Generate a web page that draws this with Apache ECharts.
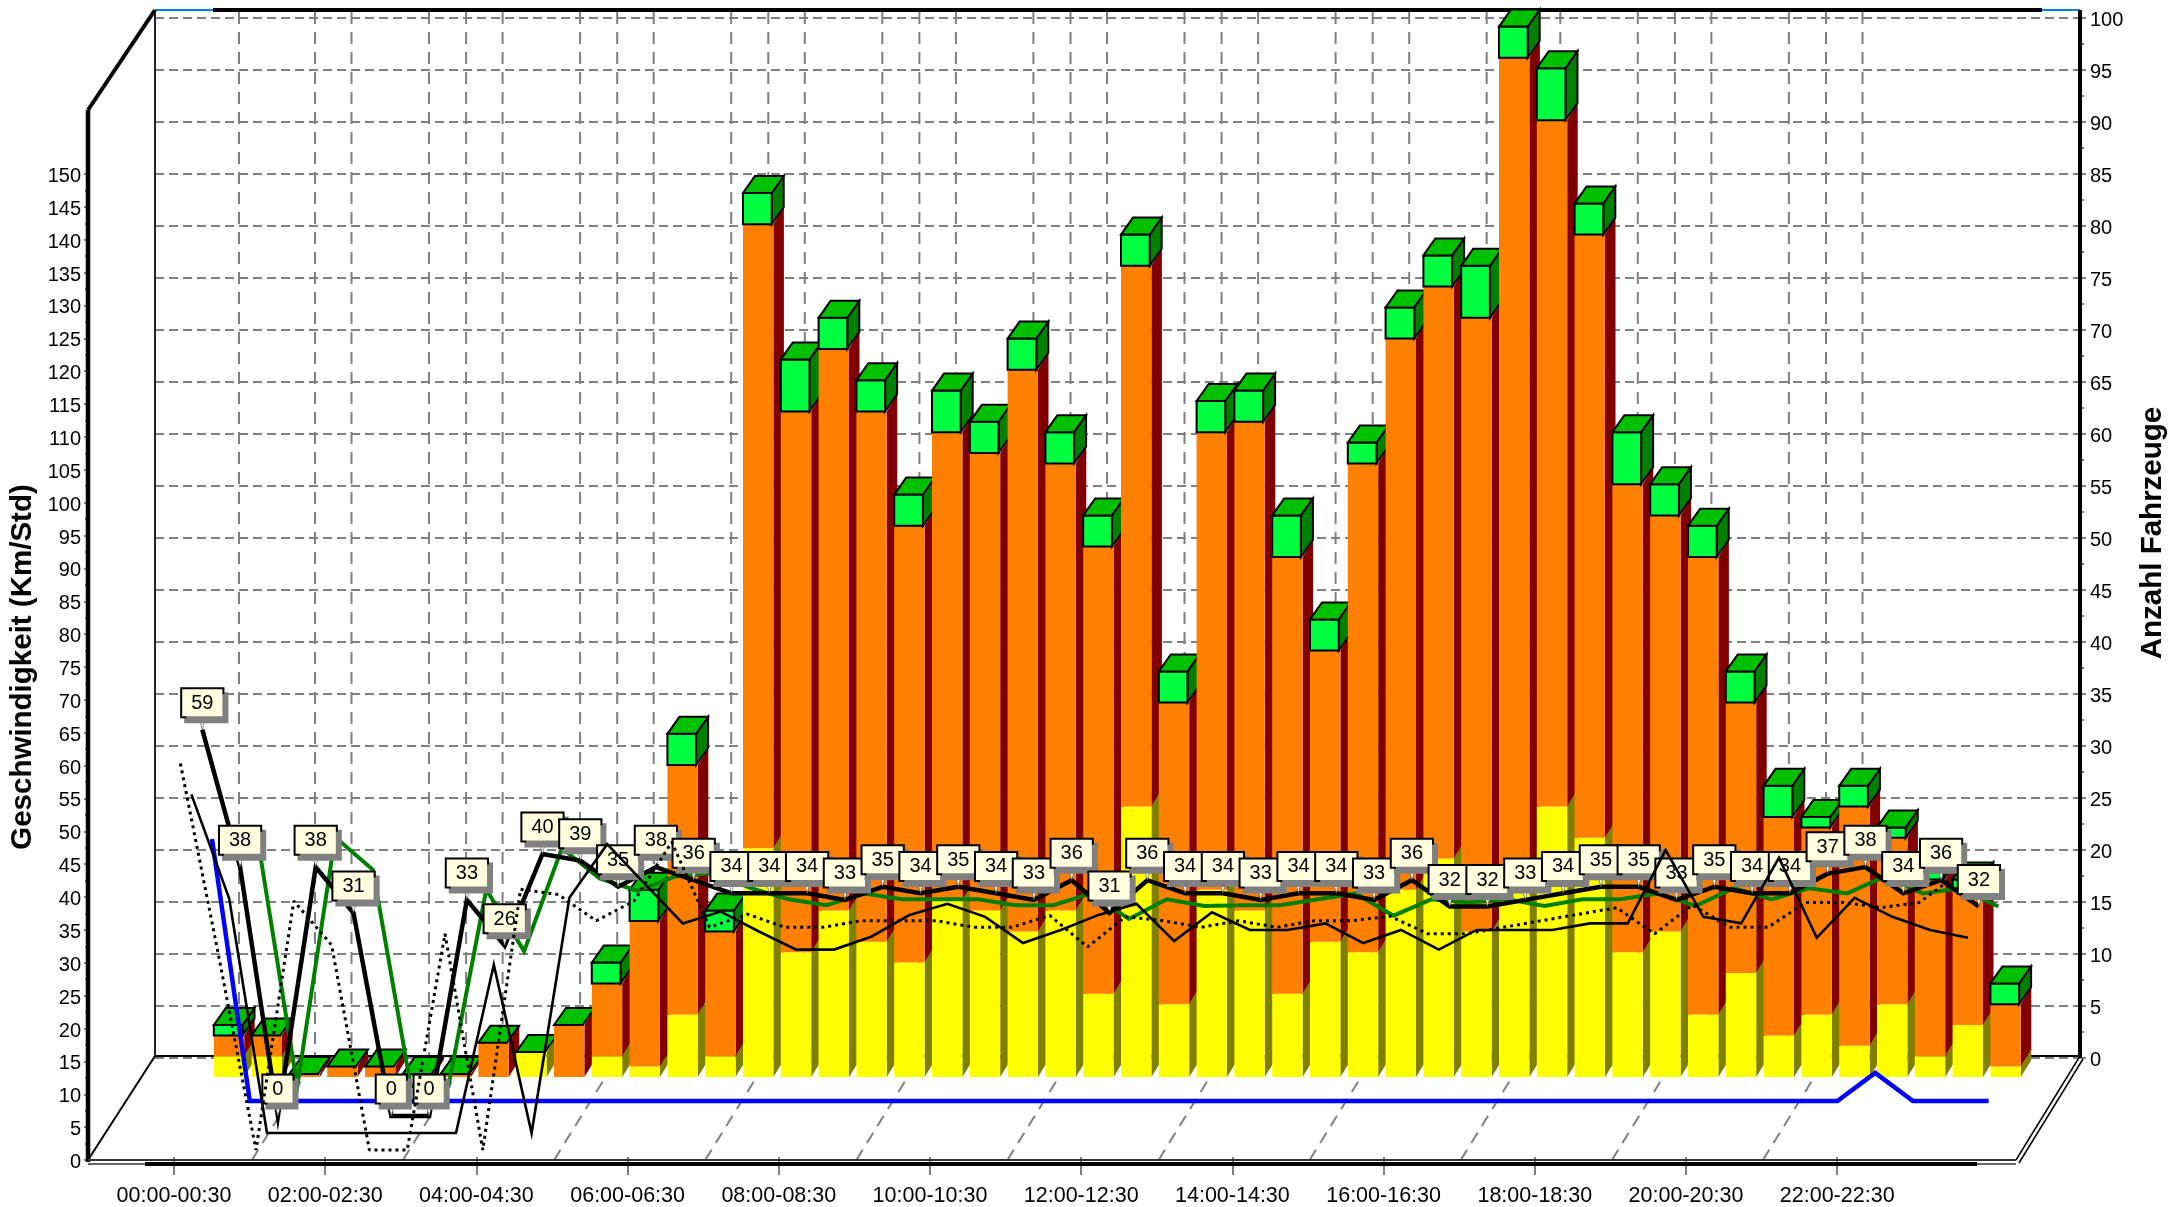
<!DOCTYPE html>
<html><head><meta charset="utf-8">
<style>html,body{margin:0;padding:0;background:#fff}#c{width:2179px;height:1207px}</style>
<script src="https://cdn.jsdelivr.net/npm/echarts@6/dist/echarts.min.js"></script>
</head><body><div id="c"></div>
<script>
const categories = ["00:00-00:30","00:30-01:00","01:00-01:30","01:30-02:00","02:00-02:30","02:30-03:00","03:00-03:30","03:30-04:00","04:00-04:30","04:30-05:00","05:00-05:30","05:30-06:00","06:00-06:30","06:30-07:00","07:00-07:30","07:30-08:00","08:00-08:30","08:30-09:00","09:00-09:30","09:30-10:00","10:00-10:30","10:30-11:00","11:00-11:30","11:30-12:00","12:00-12:30","12:30-13:00","13:00-13:30","13:30-14:00","14:00-14:30","14:30-15:00","15:00-15:30","15:30-16:00","16:00-16:30","16:30-17:00","17:00-17:30","17:30-18:00","18:00-18:30","18:30-19:00","19:00-19:30","19:30-20:00","20:00-20:30","20:30-21:00","21:00-21:30","21:30-22:00","22:00-22:30","22:30-23:00","23:00-23:30","23:30-00:00"];
const barYellow = [2,2,0,0,0,0,0,0,2.4,0,2,1,6,2,22,12,16,13,11,17,16,14,16,8,26,7,18,16,8,13,12,18,21,14,18,26,23,12,14,6,10,4,6,3,7,2,5,1];
const barOrange = [2,2,.3,1,1,.3,.3,3.3,0,5,7,14,24,12,60,52,54,51,42,45,44,54,43,43,52,29,44,47,42,28,47,53,55,59,80,66,58,45,40,44,26,21,18,23,16,17,13,6];
const barGreen  = [1,0,0,0,0,0,0,0,0,0,2,3,3,2,3,5,3,3,3,4,3,3,3,3,3,3,3,3,4,3,2,3,3,5,3,5,3,5,3,3,3,3,1,2,1,2,1,2];
const speedGreen = [null,36,0,38,33,0,0,30,20.6,36.3,31.7,29.8,32,32.5,30.2,28.5,27.6,29.4,28.5,28.5,28.5,27.6,27.6,29.4,25.5,28.5,27.5,27.6,27.6,28.5,29.4,26,28.5,28,28.5,27.5,28.5,28.5,29.4,27.5,30.2,28.5,30.2,29.4,32,29.4,30.2,27.4];
const speedBlue = [40,0,0,0,0,0,0,0,0,0,0,0,0,0,0,0,0,0,0,0,0,0,0,0,0,0,0,0,0,0,0,0,0,0,0,0,0,0,0,0,0,0,0,0,4.3,0,0,0];
const speedThick = [59,38,0,38,31,0,0,33,26,40,39,35,38,36,34,34,34,33,35,34,35,34,33,36,31,36,34,34,33,34,34,33,36,32,32,33,34,35,35,33,35,34,34,37,38,34,36,32];
const speedThin = [51.7,35.8,0,0,0,0,0,0,25.7,0,35.9,44.1,38,32,33.8,30.8,28,28,30,33.3,35,33,29,31,33.3,35,29.3,33.7,31,31,32,29,31,28,31,31,31,32,32,43.2,33,32,42,29.8,35.9,33,31,29.8];
const speedDotted = [59,30,0,38,31.3,0,0,33,0,39.8,39,35,38,47,34,36,34,34,35,35,35,34,34,35.8,31,35.6,35,34,35,34,35,35,35.7,33,33,34,35,36,37,33,37.4,34,34,37.8,37.8,37,37.8,42];
const leftTicksMax = 150, rightTicksMax = 100;

const BAND = 37.8, CATW = BAND * 48;
const GRID_GRAY = '#808080';
const barRows = categories.map((c, i) => [i, barYellow[i], barOrange[i], barGreen[i]]);

function hiddenX(gridIndex){ return {type:'category', gridIndex, data:categories, show:false, boundaryGap:true}; }
function hiddenY(gridIndex, max){ return {type:'value', gridIndex, min:0, max, show:false, splitLine:{show:false}}; }

const grids = [
  {left:155, top:18, width:1925, height:1040},          // back wall, right axis
  {left:88, top:174, width:10, height:986},             // left axis
  {left:174 - BAND/2, top:174, width:CATW, height:986}, // front category axis
  {left:229 - BAND/2, top:37, width:CATW, height:1040}, // bars layer
];
function layer(x0, y0){ grids.push({left:x0 - BAND/2, top:y0 - 150*6.55, width:CATW, height:150*6.55}); return grids.length-1; }
const gGreen = layer(221.7,1086), gBlue = layer(212,1101), gThick = layer(202.3,1116), gThin = layer(191.4,1133), gDot = layer(180.4,1150);

const xAxes = grids.map((g,i)=>hiddenX(i));
const yAxes = grids.map((g,i)=>hiddenY(i,150));
yAxes[3] = hiddenY(3,100);

const tickRich = {a:{fontFamily:'Liberation Sans', fontSize:20, color:'#000', padding:[5,0,0,0]}};
yAxes[0] = {type:'value', gridIndex:0, position:'right', min:0, max:rightTicksMax, interval:5,
  name:'Anzahl Fahrzeuge', nameLocation:'middle', nameRotate:90, nameGap:58,
  nameTextStyle:{fontFamily:'Liberation Sans', fontWeight:'bold', fontSize:29.5, color:'#000', padding:[0,0,0,10]},
  axisLine:{show:false},
  axisTick:{show:true, inside:false, length:6, lineStyle:{color:GRID_GRAY, width:2}},
  minorTick:{show:true, splitNumber:2, length:4, lineStyle:{color:GRID_GRAY, width:2}},
  axisLabel:{formatter:'{a|{value}}', rich:tickRich, margin:10},
  splitLine:{show:true, lineStyle:{color:GRID_GRAY, width:2, type:[9,5]}}};
yAxes[1] = {type:'value', gridIndex:1, position:'left', min:0, max:leftTicksMax, interval:5,
  name:'Geschwindigkeit (Km/Std)', nameLocation:'middle', nameRotate:90, nameGap:50,
  nameTextStyle:{fontFamily:'Liberation Sans', fontWeight:'bold', fontSize:29.5, color:'#000'},
  axisLine:{show:false},
  axisTick:{show:true, length:4, lineStyle:{color:GRID_GRAY, width:2}},
  minorTick:{show:true, splitNumber:2, length:3, lineStyle:{color:GRID_GRAY, width:2}},
  axisLabel:{formatter:'{a|{value}}', rich:tickRich, margin:7},
  splitLine:{show:false}};
xAxes[2] = {type:'category', gridIndex:2, data:categories, boundaryGap:true, position:'bottom',
  axisLine:{show:false},
  axisTick:{show:true, alignWithLabel:true, interval:3, length:18, lineStyle:{color:GRID_GRAY, width:2}},
  axisLabel:{interval:3, fontFamily:'Liberation Sans', fontSize:21.5, color:'#000', margin:28},
  splitLine:{show:false}};

function renderBar(params, api){
  const i = api.value(0), y = api.value(1), o = api.value(2), g = api.value(3);
  const c = api.coord([i,0])[0];
  const yv = v => api.coord([i,v])[1];
  const W = 15.2, DX = 10.5, DY = 17, GDX = 12, GR = 13.5;
  const kids = [];
  const block = (v0, v1, front, side) => {
    if (v1 <= v0) return;
    const b = yv(v0), t = yv(v1);
    kids.push({type:'polygon', shape:{points:[[c+W,b],[c+W+DX,b-DY],[c+W+DX,t-DY],[c+W,t]]}, style:{fill:side}});
    kids.push({type:'rect', shape:{x:c-W, y:t, width:2*W, height:b-t}, style:{fill:front}});
  };
  block(0, y, '#FFFF00', '#808000');
  block(y, y+o, '#FF8000', '#800000');
  const gb = yv(y+o), gt = yv(y+o+g), L = c-W, R = c+GR;
  const st = {stroke:'#000', lineWidth:2, lineJoin:'miter'};
  if (g > 0) {
    kids.push({type:'polygon', shape:{points:[[R,gb],[R+GDX,gb-DY],[R+GDX,gt-DY],[R,gt]]}, style:Object.assign({fill:'#008000'},st)});
    kids.push({type:'rect', shape:{x:L, y:gt, width:R-L, height:gb-gt}, style:Object.assign({fill:'#00FF40'},st)});
  }
  kids.push({type:'polygon', shape:{points:[[L,gt],[L+GDX,gt-DY],[R+GDX,gt-DY],[R,gt]]}, style:Object.assign({fill:'#00C000'},st)});
  return {type:'group', children:kids};
}

const baseLine = (name, grid, data, color, width, z, extra) => Object.assign({
  name, type:'line', xAxisIndex:grid, yAxisIndex:grid, data, z, clip:false, connectNulls:false,
  showSymbol:false, symbol:'none', animation:false,
  lineStyle:{color, width, join:'miter'}
}, extra||{});

const series = [
  {type:'custom', name:'Fahrzeuge', xAxisIndex:3, yAxisIndex:3, data:barRows, renderItem:renderBar, clip:false, z:10, animation:false,
   encode:{x:0, y:[1]}},
  baseLine('v85', gGreen, speedGreen, '#008000', 4, 11),
  baseLine('vmax', gBlue, speedBlue, '#0000FF', 4.5, 12),
  baseLine('vavg', gThick, speedThick, '#000', 4.5, 13, {
    showSymbol:true, showAllSymbol:true,
    symbol:'path://M0,0 L10,0 L5,18 Z', symbolSize:[7,13], symbolOffset:[0,'-50%'], symbolKeepAspect:false,
    itemStyle:{color:'#fff', borderColor:'#444', borderWidth:0.6},
    label:{show:true, position:'top', distance:0, formatter:p=>String(p.value),
      fontFamily:'Liberation Sans', fontSize:20, color:'#000', backgroundColor:'#FFFFE0',
      borderColor:'#000', borderWidth:2, padding:[4,9,3,9], lineHeight:20,
      shadowColor:'#808080', shadowBlur:0, shadowOffsetX:4, shadowOffsetY:5}
  }),
  baseLine('vmin', gThin, speedThin, '#000', 2.6, 14),
  baseLine('vmed', gDot, speedDotted, '#000', 3, 15, {lineStyle:{color:'#000', width:3, type:[3,4]}}),
];

// Frame of the 3D box
const gfx = [];
const ln = (x1,y1,x2,y2,stroke,lineWidth,z,lineDash) => gfx.push({type:'line', z:z||1, silent:true,
  shape:{x1,y1,x2,y2}, style:{stroke,lineWidth,lineDash}});
const wallSets = [[239,1],[315,11],[429,10],[351.5,11]];
wallSets.forEach(([x,n])=>{ for(let k=0;k<n;k++){ const X=x+k*151.1; ln(X,12,X,1056,GRID_GRAY,2,1,[12,8]); }});
for(let k=0;k<11;k++){ const X=252+k*151.1; ln(X,1160,X+63,1058,GRID_GRAY,2,1,[12,8]); }
ln(155,10,155,1056,'#223',2,2);
ln(155,1056,2080,1056,'#000',2,2);
ln(88,1160,155,1056,'#000',2,2);
ln(155,10,213,10,'#0080FF',2,3);
ln(213,10,2042,10,'#000',4,3);
ln(2042,10,2080,10,'#0080FF',2,3);
ln(88,110,88,1162,'#000',4.5,3);
ln(88,110,155,10,'#000',4,3);
ln(2080,10,2080,1058,'#000',4,3);
ln(88,1160,2016,1160,'#333',2,3);
ln(88,1164,2016,1164,'#333',1.5,3);
ln(145,1164,1977,1164,'#000',4,4);
ln(2016,1160,2080,1056,'#000',1.5,3);
ln(2019,1163,2083,1059,'#000',1.5,3);

const chart = echarts.init(document.getElementById('c'), null, {renderer:'canvas', width:2179, height:1207});
chart.setOption({animation:false, backgroundColor:'#fff', tooltip:{show:false}, legend:{show:false},
  grid:grids.map(g=>Object.assign({containLabel:false, show:false},g)), xAxis:xAxes, yAxis:yAxes, series,
  graphic:{elements:gfx}});
</script></body></html>
